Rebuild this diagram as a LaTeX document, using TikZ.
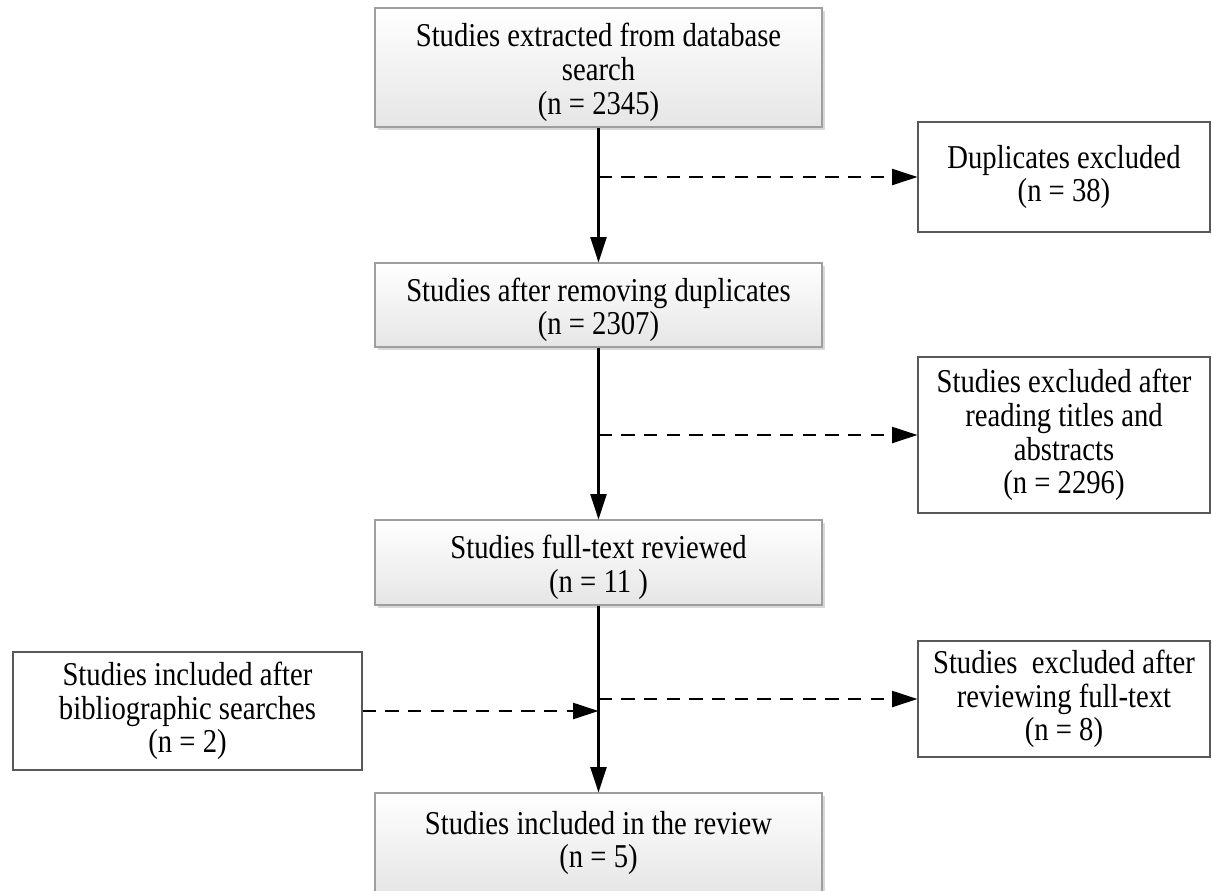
\documentclass[tikz,border=0pt]{standalone}
\usepackage{fontspec}
\setmainfont[FakeStretch=0.86]{Liberation Serif}
\usetikzlibrary{arrows.meta,shadows}
\newcommand\flowfont{\fontsize{25pt}{25.3pt}\selectfont}
\begin{document}
\begin{tikzpicture}[x=0.75pt,y=-0.75pt,
  mainbox/.style={draw=black!38, line width=0.8pt, top color=white, bottom color=black!10,
    drop shadow={shadow xshift=2.5pt, shadow yshift=-2.5pt, fill=black!30, opacity=0.5},
    align=center, minimum width=335.25pt, inner sep=0pt, font=\flowfont},
  sidebox/.style={draw=black!65, line width=0.8pt, fill=white, align=center,
    minimum width=219pt, inner sep=0pt, font=\flowfont},
  flow/.style={line width=1.6pt, -{Triangle[length=19pt,width=12pt]}},
  side/.style={line width=1.5pt, dash pattern=on 10pt off 7pt, -{Triangle[length=19pt,width=12pt]}}]

\path[use as bounding box, clip] (0,0) rectangle (1212,890);

\node[mainbox, text height=75.3pt, text depth=5.3pt, minimum height=89.25pt] (b1) at (598.5,67.5) {Studies extracted from database\\search\\(n = 2345)};
\node[mainbox, text height=50pt, text depth=5.3pt, minimum height=63pt] (b3) at (598.5,305) {Studies after removing duplicates\\(n = 2307)};
\node[mainbox, text height=50pt, text depth=5.3pt, minimum height=63.75pt] (b5) at (598.5,562.5) {Studies full-text reviewed\\(n = 11 )};
\node[mainbox, minimum height=75pt] (b7) at (598.5,843) {Studies included in the review\\(n = 5)};

\node[sidebox, minimum height=82.5pt] (b2) at (1064,177) {Duplicates excluded\\(n = 38)};
\node[sidebox, minimum height=117pt] (b4) at (1064,435) {Studies excluded after\\reading titles and\\abstracts\\(n = 2296)};
\node[sidebox, minimum height=87pt] (b6) at (1064,699) {Studies\ \ excluded after\\reviewing full-text\\(n = 8)};
\node[sidebox, minimum width=261.75pt, minimum height=88.5pt] (b0) at (187.5,711) {Studies included after\\bibliographic searches\\(n = 2)};

\coordinate (j1) at (b1.south |- b2.west);
\coordinate (j2) at (b3.south |- b4.west);
\coordinate (j3) at (b5.south |- b6.west);
\coordinate (j4) at (b5.south |- b0.east);

\draw[flow] (b1) -- (b3);
\draw[flow] (b3) -- (b5);
\draw[flow] (b5) -- (b7);

\draw[side] (j1) -- (b2);
\draw[side] (j2) -- (b4);
\draw[side] (j3) -- (b6);
\draw[side] (b0) -- (j4);
\end{tikzpicture}
\end{document}
